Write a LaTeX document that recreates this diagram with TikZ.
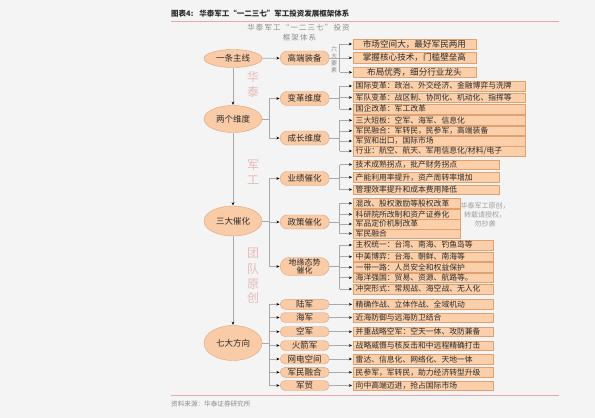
\documentclass[tikz,border=0pt]{standalone}
\usepackage{fontspec}
\setmainfont{Noto Sans CJK SC}
\newfontfamily\spacedfont[LetterSpace=15]{Noto Sans CJK SC}
\usetikzlibrary{shapes.geometric,shapes.misc,arrows.meta}
\definecolor{bgc}{HTML}{F4F4F4}
\definecolor{fillo}{HTML}{F9CBA6}
\definecolor{edgeo}{HTML}{DFA27A}
\definecolor{boxf}{HTML}{FBCFA9}
\definecolor{boxe}{HTML}{E0A06F}
\definecolor{conn}{HTML}{A9A9A9}
\definecolor{wm}{HTML}{E8B9B9}
\definecolor{redline}{HTML}{E6A9A9}
\definecolor{txt}{HTML}{2B2B2B}
\definecolor{graytxt}{HTML}{8C8C8C}
\begin{document}
\begin{tikzpicture}[x=1pt,y=-1pt,
  lell/.style={ellipse, draw=edgeo, fill=fillo, minimum width=58pt, inner sep=0pt, text=txt, font=\fontsize{8.5}{9}\selectfont},
  mid/.style={rounded rectangle, draw=edgeo, fill=fillo, minimum width=49pt, minimum height=14pt, inner sep=0pt, text=txt, font=\fontsize{8.5}{9.5}\selectfont, align=center},
  arm/.style={mid, minimum height=10pt, font=\fontsize{8.5}{9}\selectfont},
  box/.style={rectangle, draw=boxe, fill=boxf, minimum height=9.6pt, inner ysep=0pt, inner xsep=3pt, anchor=west, text=txt, font=\fontsize{7.8}{8.5}\selectfont, align=left},
  bwa/.style={box, text width=117.5pt, align=center, minimum height=10.5pt, font=\fontsize{8.6}{9}\selectfont},
  bwb/.style={box, text width=166.5pt},
  bwd/.style={box, text width=140.5pt},
  bwe/.style={box, text width=101.5pt},
  bwf/.style={box, text width=134.5pt},
  ln/.style={draw=conn, line width=0.6pt},
  arr/.style={draw=conn, line width=0.6pt, -{Stealth[length=3.2pt,width=2.6pt,color=black]}, shorten >=0.4pt},
  wmk/.style={text=wm, font=\fontsize{12}{12}\selectfont},
  gsm/.style={text=graytxt, font=\fontsize{6}{6}\selectfont, inner sep=0pt},
]
\useasboundingbox (0,0) rectangle (595,418);
\fill[bgc] (0,0) rectangle (595,418);

% header
\node[anchor=west, inner sep=0pt, text=txt, font=\fontsize{7.5}{8}\selectfont\bfseries] (hd) at (171,14) {图表4:\hspace{6pt}华泰军工“一二三七”军工投资发展框架体系};
\draw[redline, line width=0.8pt] (171,21) coordinate (tl1) -- (559,21) coordinate (tl2);
\node[text=graytxt, inner sep=0pt, font=\fontsize{7.5}{8}\spacedfont] (t1) at (298.5,27.5) {华泰军工“一二三七”投资};
\node[text=graytxt, inner sep=0pt, font=\fontsize{7.5}{8}\spacedfont] (t2) at (299.5,37.5) {框架体系};

% bottom
\draw[redline, line width=0.8pt] (171,395) coordinate (bl1) -- (559,395) coordinate (bl2);
\node[anchor=west, inner sep=0pt, text=graytxt, font=\fontsize{6.6}{7}\selectfont] (src) at (171,404) {资料来源：华泰证券研究所};

% left ellipses
\node[lell, minimum height=18pt] (L1) at (233,58.5) {一条主线};
\node[lell, minimum height=27pt] (L2) at (233,119) {两个维度};
\node[lell, minimum height=30pt] (L3) at (233,221) {三大催化};
\node[lell, minimum height=35pt] (L4) at (233,343) {七大方向};
\draw[arr] (L1) -- (L2);
\draw[arr] (L2) -- (L3);
\draw[arr] (L3) -- (L4);

% watermark characters
\node[wmk] (w1) at (253,77) {华};
\node[wmk] (w2) at (253,92) {泰};
\node[wmk] (w3) at (253,165) {军};
\node[wmk] (w4) at (253,180) {工};
\node[wmk] (w5) at (253,253) {团};
\node[wmk] (w6) at (253,269) {队};
\node[wmk] (w7) at (253,284) {原};
\node[wmk] (w8) at (253,298) {创};

% middle nodes
\node[mid] (M1) at (304.7,58) {高端装备};
\node[mid] (M2) at (304.7,98.5) {变革维度};
\node[mid] (M3) at (304.7,138) {成长维度};
\node[mid] (M4) at (304.7,178.5) {业绩催化};
\node[mid] (M5) at (304.7,222) {政策催化};
\node[mid, minimum height=18pt, font=\fontsize{8}{8.6}\selectfont] (M6) at (304.7,266.5) {地缘态势\\催化};
\node[arm] (A1) at (304.7,304.3) {陆军};
\node[arm] (A2) at (304.7,317.5) {海军};
\node[arm] (A3) at (304.7,331.7) {空军};
\node[arm] (A4) at (304.7,345.5) {火箭军};
\node[arm] (A5) at (304.7,359) {网电空间};
\node[arm] (A6) at (304.7,372.3) {军民融合};
\node[arm] (A7) at (304.7,385.5) {军贸};

% left-to-middle connectors
\draw[arr] (L1) -- (M1);
\draw[ln] (L2.east) -- (269,119) coordinate (j2);
\draw[ln] (j2 |- M2.west) -- (j2 |- M3.west);
\draw[arr] (j2 |- M2.west) -- (M2.west);
\draw[arr] (j2 |- M3.west) -- (M3.west);
\draw[ln] (L3.east) -- (269,221) coordinate (j3);
\draw[ln] (j3 |- M4.west) -- (j3 |- M6.west);
\draw[arr] (j3 |- M4.west) -- (M4.west);
\draw[arr] (j3 |- M5.west) -- (M5.west);
\draw[arr] (j3 |- M6.west) -- (M6.west);
\draw[ln] (L4.east) -- (269,343) coordinate (j4);
\draw[ln] (j4 |- A1.west) -- (j4 |- A7.west);
\foreach \n in {A1,A2,A3,A4,A5,A6,A7} \draw[arr] (j4 |- \n.west) -- (\n.west);

% six elements label
\node[gsm] (s1) at (334,49.5) {六};
\node[gsm] (s2) at (334,56.5) {大};
\node[gsm] (s3) at (334,63.5) {要};
\node[gsm] (s4) at (334,70.5) {素};

% right boxes group 1
\node[bwa] (B11) at (352.5,44) {市场空间大，最好军民两用};
\node[bwa] (B12) at (352.5,57.8) {掌握核心技术，门槛壁垒高};
\node[bwa] (B13) at (352.5,72.3) {布局优秀，细分行业龙头};
% group 2
\node[bwb] (B21) at (352.5,86) {国际变革：政治、外交经济、金融博弈与洗牌};
\node[bwb] (B22) at (352.5,97.5) {军队变革：战区制、协同化、机动化、指挥等};
\node[bwb] (B23) at (352.5,109) {国企改革：军工改革};
% group 3
\node[bwb] (B31) at (352.5,120.3) {三大短板：空军、海军、信息化};
\node[bwb] (B32) at (352.5,130.8) {军民融合：军转民，民参军，高端装备};
\node[bwb] (B33) at (352.5,141) {军贸和出口，国际市场};
\node[bwb] (B34) at (352.5,151) {行业：航空、航天、军用信息化/材料/电子};
% group 4
\node[bwd] (B41) at (352.5,164.5) {技术成熟拐点，批产财务拐点};
\node[bwd] (B42) at (352.5,177.3) {产能利用率提升，资产周转率增加};
\node[bwd] (B43) at (352.5,189.5) {管理效率提升和成本费用降低};
% group 5
\node[bwe] (B51) at (352.5,203.3) {混改、股权激励等股权改革};
\node[bwe] (B52) at (352.5,214.3) {科研院所改制和资产证券化};
\node[bwe] (B53) at (352.5,224) {军品定价机制改革};
\node[bwe] (B54) at (352.5,233.5) {军民融合};
% group 6
\node[bwf] (B61) at (352.5,245) {主权统一：台湾、南海、钓鱼岛等};
\node[bwf] (B62) at (352.5,256.7) {中美博弈：台海、朝鲜、南海等};
\node[bwf] (B63) at (352.5,267.3) {一带一路：人员安全和权益保护};
\node[bwf] (B64) at (352.5,277.7) {海洋强国：贸易、资源、航路等。};
\node[bwf] (B65) at (352.5,289) {冲突形式：常规战、海空战、无人化};
% group 7
\node[bwf] (B71) at (352.5,304.3) {精确作战、立体作战、全域机动};
\node[bwf] (B72) at (352.5,317.5) {近海防御与远海防卫结合};
\node[bwf] (B73) at (352.5,331.7) {并重战略空军：空天一体、攻防兼备};
\node[bwf] (B74) at (352.5,345.5) {战略威慑与核反击和中远程精确打击};
\node[bwf] (B75) at (352.5,359) {雷达、信息化、网络化、天地一体};
\node[bwf] (B76) at (352.5,372.3) {民参军，军转民，助力经济转型升级};
\node[bwf] (B77) at (352.5,385.5) {向中高端迈进，抢占国际市场};

% watermark note
\node[text=graytxt!85, align=center, inner sep=0pt, font=\fontsize{7}{8.8}\selectfont] (note) at (485,215) {华泰军工原创，\\转载请授权，\\勿抄袭};

% middle-to-right connectors
\draw[ln] (M1.east) -- (339.5,58) coordinate (k1);
\draw[ln] (k1 |- B11.west) -- (k1 |- B13.west);
\foreach \n in {B11,B12,B13} \draw[arr] (k1 |- \n.west) -- (\n.west);
\draw[ln] (M2.east) -- (339.5,98.5) coordinate (k2);
\draw[ln] (k2 |- B21.west) -- (k2 |- B23.west);
\foreach \n in {B21,B22,B23} \draw[arr] (k2 |- \n.west) -- (\n.west);
\draw[ln] (M3.east) -- (339.5,138) coordinate (k3);
\draw[ln] (k3 |- B31.west) -- (k3 |- B34.west);
\foreach \n in {B31,B32,B33,B34} \draw[arr] (k3 |- \n.west) -- (\n.west);
\draw[ln] (M4.east) -- (339.5,178.5) coordinate (k4);
\draw[ln] (k4 |- B41.west) -- (k4 |- B43.west);
\foreach \n in {B41,B42,B43} \draw[arr] (k4 |- \n.west) -- (\n.west);
\draw[ln] (M5.east) -- (339.5,222) coordinate (k5);
\draw[ln] (k5 |- B51.west) -- (k5 |- B54.west);
\foreach \n in {B51,B52,B53,B54} \draw[arr] (k5 |- \n.west) -- (\n.west);
\draw[ln] (M6.east) -- (339.5,266.5) coordinate (k6);
\draw[ln] (k6 |- B61.west) -- (k6 |- B65.west);
\foreach \n in {B61,B62,B63,B64,B65} \draw[arr] (k6 |- \n.west) -- (\n.west);
\draw[arr] (A1.east) -- (B71.west);
\draw[arr] (A2.east) -- (B72.west);
\draw[arr] (A3.east) -- (B73.west);
\draw[arr] (A4.east) -- (B74.west);
\draw[arr] (A5.east) -- (B75.west);
\draw[arr] (A6.east) -- (B76.west);
\draw[arr] (A7.east) -- (B77.west);
\end{tikzpicture}
\end{document}
